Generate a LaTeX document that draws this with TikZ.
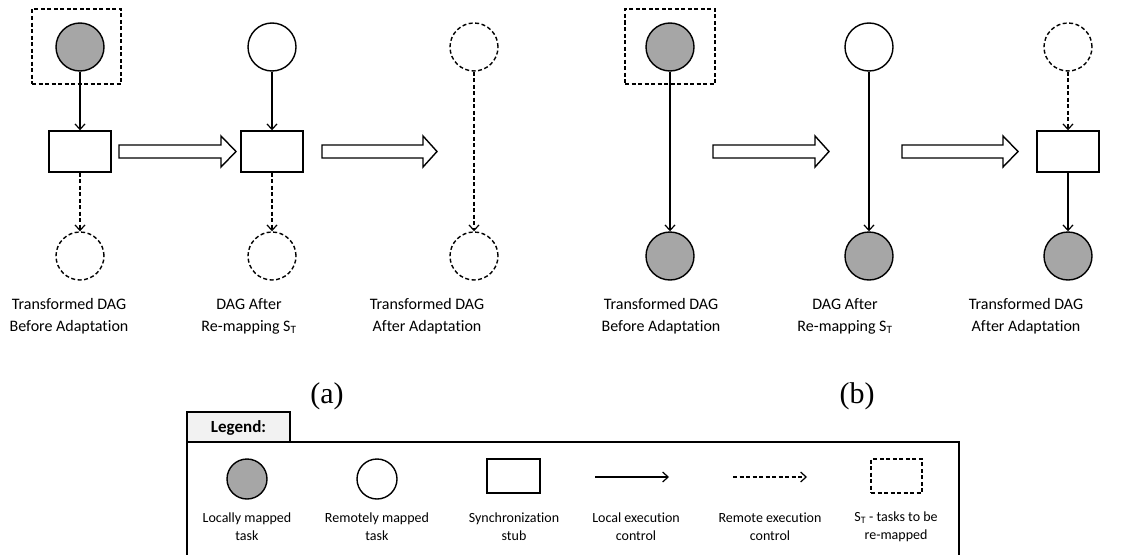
\documentclass[tikz,border=0pt]{standalone}
\usepackage{fontspec}
\setmainfont{Carlito}[Ligatures=NoCommon]
\newfontfamily\captionfont{Liberation Serif}
\usetikzlibrary{arrows.meta}
\definecolor{localgray}{HTML}{A6A6A6}
\definecolor{tabgray}{HTML}{F2F2F2}
\tikzset{
  task/.style={circle, draw, line width=1.4pt, minimum size=48pt, inner sep=0pt},
  localtask/.style={task, fill=localgray},
  remotetask/.style={task, fill=white},
  ghosttask/.style={task, dashed, dash pattern=on 4pt off 2.5pt},
  stub/.style={rectangle, draw, line width=1.4pt, minimum width=62pt, minimum height=41pt, inner sep=0pt},
  remapbox/.style={rectangle, draw, line width=1.3pt, dash pattern=on 4pt off 2.5pt, inner sep=0pt},
  localctl/.style={draw, line width=1.2pt, -{Straight Barb[length=5.5pt,width=10pt,line width=1.2pt]}},
  remotectl/.style={localctl, dash pattern=on 4pt off 2.5pt},
  stagearrow/.style={draw, line width=1.4pt, fill=white, line join=miter},
  dagtext/.style={align=center, font=\fontsize{16}{22}\selectfont, inner sep=0pt},
  legtext/.style={align=center, font=\fontsize{14}{18}\selectfont, inner sep=0pt},
  panellabel/.style={font=\captionfont\fontsize{30}{32}\selectfont, inner sep=0pt}
}
% hollow block arrow between stages: #1 = left x, #2 = head base x, #3 = tip x
\newcommand{\stagearrow}[3]{%
  \path[stagearrow] (#1,145) -- (#2,145) -- (#2,136) -- (#3,151.5) -- (#2,167) -- (#2,158) -- (#1,158) -- cycle;}
\begin{document}
\begin{tikzpicture}[x=1pt,y=-1pt]
\useasboundingbox (0,0) rectangle (1139,554);

% ---------------- panel (a) ----------------
% stage 1: transformed DAG before adaptation
\node[localtask]  (a1t) at (80,47) {};
\node[remapbox, minimum width=89pt, minimum height=75pt] (a1s) at (76.5,46.5) {};
\node[stub]       (a1m) at (80,151.5) {};
\node[ghosttask]  (a1b) at (80,256) {};
\draw[localctl]  (a1t) -- (a1m);
\draw[remotectl] (a1m) -- (a1b);

% stage 2: after re-mapping
\node[remotetask] (a2t) at (272,47) {};
\node[stub]       (a2m) at (272,151.5) {};
\node[ghosttask]  (a2b) at (272,256) {};
\draw[localctl]  (a2t) -- (a2m);
\draw[remotectl] (a2m) -- (a2b);

% stage 3: after adaptation
\node[ghosttask]  (a3t) at (474,47) {};
\node[ghosttask]  (a3b) at (474,256) {};
\draw[remotectl] (a3t) -- (a3b);

\stagearrow{119}{221}{236}
\stagearrow{322}{423}{437}

\node[dagtext] (a1l) at (69,316) {Transformed DAG\\Before Adaptation};
\node[dagtext] (a2l) at (249,316) {DAG After\\Re-mapping S\textsubscript{T}};
\node[dagtext] (a3l) at (427,316) {Transformed DAG\\After Adaptation};

% ---------------- panel (b) ----------------
\node[localtask]  (b1t) at (670,47) {};
\node[remapbox, minimum width=90pt, minimum height=75pt] (b1s) at (670,46.5) {};
\node[localtask]  (b1b) at (670,256) {};
\draw[localctl] (b1t) -- (b1b);

\node[remotetask] (b2t) at (869,47) {};
\node[localtask]  (b2b) at (869,256) {};
\draw[localctl] (b2t) -- (b2b);

\node[ghosttask]  (b3t) at (1068,47) {};
\node[stub]       (b3m) at (1068,151.5) {};
\node[localtask]  (b3b) at (1068,256) {};
\draw[remotectl] (b3t) -- (b3m);
\draw[localctl]  (b3m) -- (b3b);

\stagearrow{713}{815}{829}
\stagearrow{902}{1003}{1018}

\node[dagtext] (b1l) at (661,316) {Transformed DAG\\Before Adaptation};
\node[dagtext] (b2l) at (845,316) {DAG After\\Re-mapping S\textsubscript{T}};
\node[dagtext] (b3l) at (1026,316) {Transformed DAG\\After Adaptation};

% panel captions
\node[panellabel] (capa) at (327,396) {(a)};
\node[panellabel] (capb) at (857,396) {(b)};

% ---------------- legend ----------------
\draw[line width=1.3pt, fill=tabgray] (187,442) rectangle (290,412);
\node[font=\bfseries\fontsize{17}{20}\selectfont, inner sep=0pt] (legtitle) at (238.5,427.5) {Legend:};
\draw[line width=1.6pt] (187,556) -- (187,442) -- (959,442) -- (959,556);

\node[localtask, minimum size=40pt]  (lg1) at (247,479) {};
\node[remotetask, minimum size=40pt] (lg2) at (377,479) {};
\node[stub, minimum width=53pt, minimum height=34pt] (lg3) at (513.5,476) {};
\coordinate (lg4a) at (595,477);
\coordinate (lg4b) at (669,477);
\draw[localctl] (lg4a) -- (lg4b);
\coordinate (lg5a) at (733,477);
\coordinate (lg5b) at (807,477);
\draw[remotectl] (lg5a) -- (lg5b);
\node[remapbox, minimum width=51pt, minimum height=34pt] (lg6) at (896.5,476) {};

\node[legtext] (lt1) at (247,527) {Locally mapped\\task};
\node[legtext] (lt2) at (377,527) {Remotely mapped\\task};
\node[legtext] (lt3) at (514,527) {Synchronization\\stub};
\node[legtext] (lt4) at (636,527) {Local execution\\control};
\node[legtext] (lt5) at (770,527) {Remote execution\\control};
\node[legtext] (lt6) at (896,527) {S\textsubscript{T} - tasks to be\\re-mapped};
\end{tikzpicture}
\end{document}
